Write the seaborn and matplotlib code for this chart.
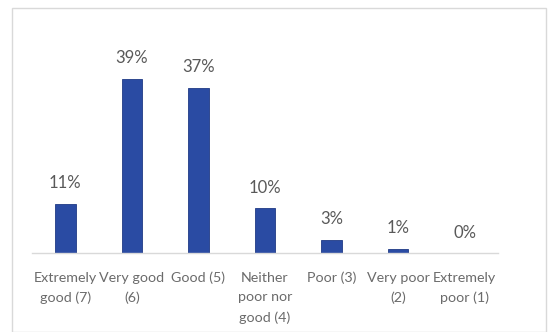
import matplotlib
matplotlib.use("Agg")
import matplotlib.pyplot as plt
import seaborn as sns
import pandas as pd
from matplotlib.patches import Rectangle

# Survey response shares per rating category
categories = ["Extremely\ngood (7)", "Very good\n(6)", "Good (5)", "Neither\npoor nor\ngood (4)",
              "Poor (3)", "Very poor\n(2)", "Extremely\npoor (1)"]
shares = [11, 39, 37, 10, 3, 1, 0]
value_labels = ["11%", "39%", "37%", "10%", "3%", "1%", "0%"]

df = pd.DataFrame({"category": categories, "share": shares})

sns.set_style("white")
plt.rcParams["font.family"] = ["Lato", "DejaVu Sans"]

fig = plt.figure(figsize=(5.52, 3.32), dpi=100)
W, H = 552, 332
ax = fig.add_axes([32 / W, 1 - 253 / H, (498 - 32) / W, (253 - 52) / H])

sns.barplot(data=df, x="category", y="share", color="#2a4ba3", width=0.31,
            saturation=1, ax=ax, edgecolor="#1f3a85", linewidth=0.6)

ax.set_ylim(0, 45)
ax.set_xlim(-0.5, len(categories) - 0.5)
ax.set_xlabel("")
ax.set_ylabel("")
ax.set_yticks([])
for side in ["top", "right", "left"]:
    ax.spines[side].set_visible(False)
ax.spines["bottom"].set_color("#d9d9d9")
ax.spines["bottom"].set_linewidth(1.0)
ax.tick_params(axis="x", length=0, pad=13.5, labelsize=10.3, labelcolor="#6b6b6b")
for lbl in ax.get_xticklabels():
    lbl.set_linespacing(1.75)

for i, (v, t) in enumerate(zip(shares, value_labels)):
    ax.annotate(t, (i, v), xytext=(0, 9), textcoords="offset points",
                ha="center", va="bottom", fontsize=12, color="#595959")

# Chart frame
fig.patches.append(Rectangle((12 / W, 0), (546 - 12) / W, 1 - 8 / H,
                             transform=fig.transFigure, fill=False,
                             edgecolor="#d9d9d9", linewidth=1.0))

fig.savefig("out.png", dpi=100, facecolor="white")
